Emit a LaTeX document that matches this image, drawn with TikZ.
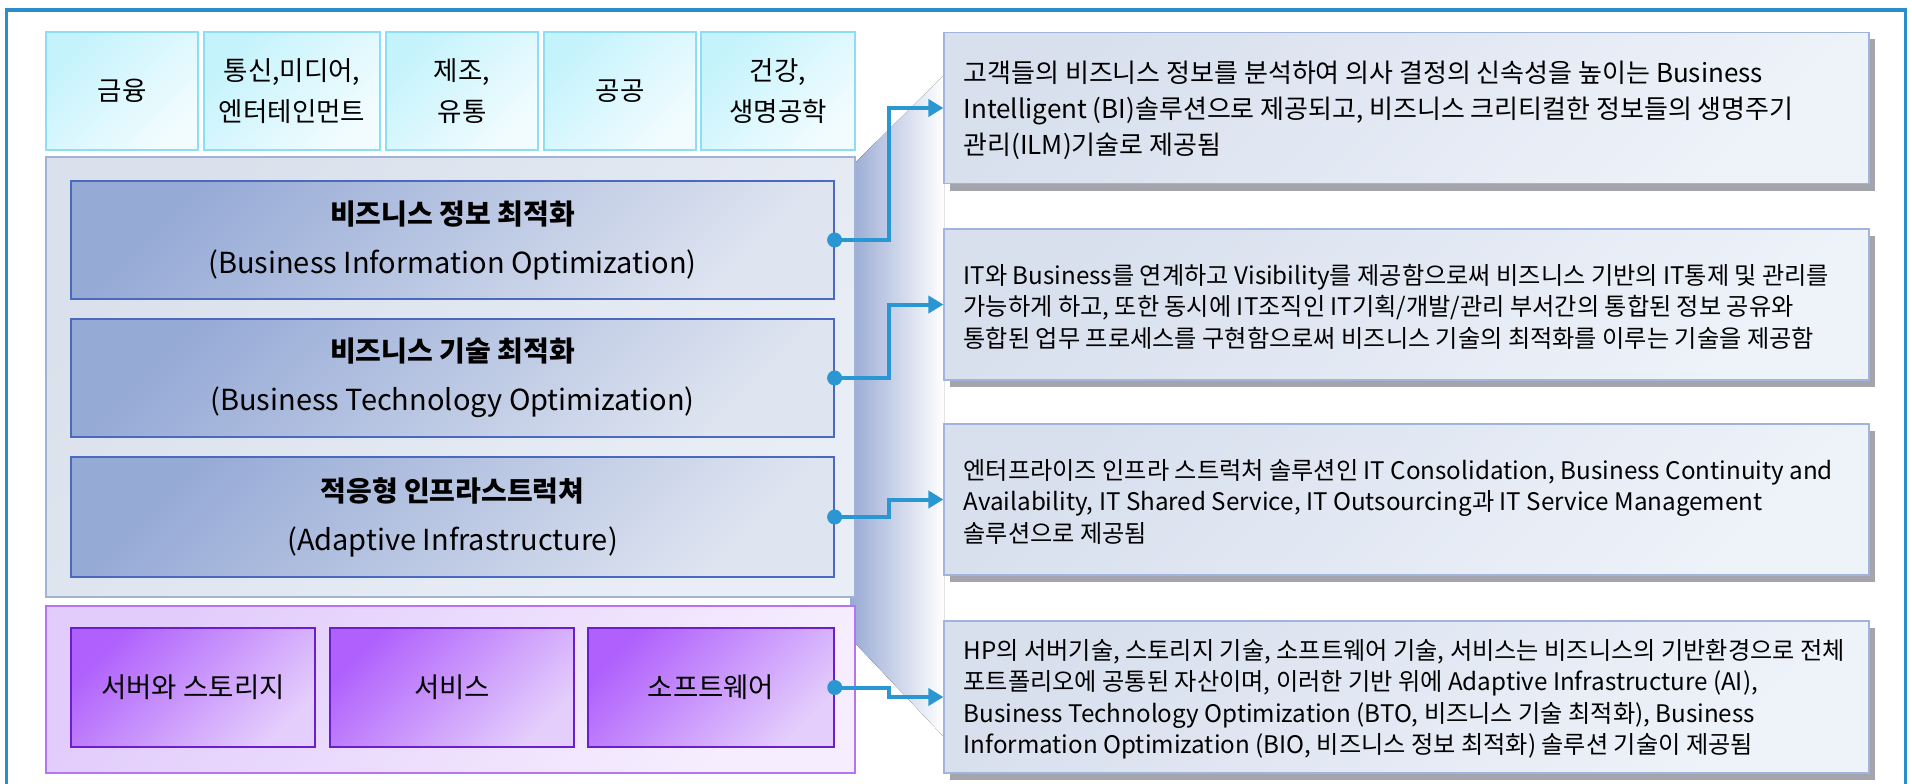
\documentclass[tikz,border=0pt]{standalone}
\usepackage{fontspec}
\setmainfont{Noto Sans CJK KR}
\usetikzlibrary{arrows.meta,shadows}
\definecolor{frameblue}{RGB}{40,142,204}
\definecolor{indA}{RGB}{196,243,252}
\definecolor{indB}{RGB}{242,252,255}
\definecolor{indBorder}{RGB}{140,222,248}
\definecolor{panA}{RGB}{218,225,236}
\definecolor{panB}{RGB}{233,238,246}
\definecolor{panBorder}{RGB}{160,178,214}
\definecolor{optA}{RGB}{150,170,214}
\definecolor{optB}{RGB}{222,228,240}
\definecolor{optBorder}{RGB}{74,106,192}
\definecolor{purA}{RGB}{226,204,252}
\definecolor{purB}{RGB}{246,238,254}
\definecolor{purBorder}{RGB}{180,116,244}
\definecolor{pinA}{RGB}{176,96,252}
\definecolor{pinB}{RGB}{228,206,252}
\definecolor{pinBorder}{RGB}{108,30,204}
\definecolor{conn}{RGB}{42,150,210}
\definecolor{descA}{RGB}{216,224,238}
\definecolor{descB}{RGB}{238,242,249}
\definecolor{descBorder}{RGB}{160,180,222}
\definecolor{shadowgray}{RGB}{164,164,172}
\definecolor{trap}{RGB}{152,170,212}
\begin{document}
\begin{tikzpicture}[x=1pt,y=-1pt,
  ind/.style={draw=indBorder, line width=1.5pt, top color=indA, bottom color=indB, shading angle=45,
    minimum height=118pt, inner sep=0pt, align=center, font=\fontsize{26.5}{41}\selectfont},
  panel/.style={draw=panBorder, line width=1.2pt, top color=panA, bottom color=panB, shading angle=45, inner sep=0pt},
  opt/.style={draw=optBorder, line width=1.2pt, top color=optA, bottom color=optB, shading angle=45,
    minimum width=763pt, minimum height=118pt, inner sep=0pt, align=center, font=\fontsize{28}{49}\selectfont},
  ppanel/.style={draw=purBorder, line width=1.2pt, top color=purA, bottom color=purB, shading angle=45, inner sep=0pt},
  pin/.style={draw=pinBorder, line width=1.5pt, top color=pinA, bottom color=pinB, shading angle=45,
    minimum height=119pt, inner sep=0pt, align=center, font=\fontsize{27.5}{30}\selectfont},
  rbox/.style={draw=descBorder, line width=1.2pt, top color=descA, bottom color=descB, shading angle=45,
    minimum width=925pt, minimum height=151pt, inner sep=0pt,
    drop shadow={shadow xshift=6pt, shadow yshift=-7pt, fill=shadowgray, opacity=1}},
  desc/.style={anchor=west, align=left, inner sep=0pt, font=\fontsize{24.2}{31.5}\selectfont},
  connline/.style={draw=conn, line width=4pt, -{Triangle[length=15pt,width=17pt]}},
  dot/.style={fill=conn}
]
\useasboundingbox (0,0) rectangle (1912,784);
\fill[white] (0,0) rectangle (1912,784);
% gradient wedge
\fill[left color=trap, right color=white] (850,163) -- (855,163) -- (944,75) -- (944,737) -- (855,643) -- (850,643) -- cycle;
% outer frame
\draw[frameblue, line width=3.5pt] (6.5,800) -- (6.5,10) -- (1905.5,10) -- (1905.5,800);
% industries
\node[ind, minimum width=152pt] (fin) at (122,91) {금융};
\node[ind, minimum width=176pt] (tel) at (292,91) {통신,미디어,\\엔터테인먼트};
\node[ind, minimum width=152pt] (man) at (462,91) {제조,\\유통};
\node[ind, minimum width=152pt] (pub) at (620,91) {공공};
\node[ind, minimum width=154pt] (hea) at (778,91) {건강,\\생명공학};
% optimisation stack
\node[panel, minimum width=809pt, minimum height=440pt] (stack) at (450.5,377) {};
\node[opt] (bio) at (452.5,240) {\textbf{비즈니스 정보 최적화}\\{\fontsize{29}{49}\selectfont (Business Information Optimization)}};
\node[opt] (bto) at (452.5,378) {\textbf{비즈니스 기술 최적화}\\{\fontsize{29}{49}\selectfont (Business Technology Optimization)}};
\node[opt, minimum height=120pt] (ai) at (452.5,517) {\textbf{적응형 인프라스트럭쳐}\\{\fontsize{29}{49}\selectfont (Adaptive Infrastructure)}};
% base layer
\node[ppanel, minimum width=809pt, minimum height=167pt] (base) at (450.5,689.5) {};
\node[pin, minimum width=244pt] (srv) at (193,687.5) {서버와 스토리지};
\node[pin, minimum width=244pt] (svc) at (452,687.5) {서비스};
\node[pin, minimum width=246pt] (sw) at (711,687.5) {소프트웨어};
% description boxes
\node[rbox] (r1) at (1406.5,108) {};
\node[rbox] (r2) at (1406.5,304.5) {};
\node[rbox] (r3) at (1406.5,499.5) {};
\node[rbox, minimum height=152pt] (r4) at (1406.5,697) {};
\node[desc, font=\fontsize{26}{36}\selectfont] (t1) at ([xshift=20pt,yshift=-2pt]r1.west) {고객들의 비즈니스 정보를 분석하여 의사 결정의 신속성을 높이는 Business\\Intelligent (BI)솔루션으로 제공되고, 비즈니스 크리티컬한 정보들의 생명주기\\관리(ILM)기술로 제공됨};
\node[desc] (t2) at ([xshift=20pt,yshift=-2pt]r2.west) {IT와 Business를 연계하고 Visibility를 제공함으로써 비즈니스 기반의 IT통제 및 관리를\\가능하게 하고, 또한 동시에 IT조직인 IT기획/개발/관리 부서간의 통합된 정보 공유와\\통합된 업무 프로세스를 구현함으로써 비즈니스 기술의 최적화를 이루는 기술을 제공함};
\node[desc] (t3) at ([xshift=20pt,yshift=-2pt]r3.west) {엔터프라이즈 인프라 스트럭처 솔루션인 IT Consolidation, Business Continuity and\\Availability, IT Shared Service, IT Outsourcing과 IT Service Management\\솔루션으로 제공됨};
\node[desc] (t4) at ([xshift=20pt,yshift=-2pt]r4.west) {HP의 서버기술, 스토리지 기술, 소프트웨어 기술, 서비스는 비즈니스의 기반환경으로 전체\\포트폴리오에 공통된 자산이며, 이러한 기반 위에 Adaptive Infrastructure (AI),\\Business Technology Optimization (BTO, 비즈니스 기술 최적화), Business\\Information Optimization (BIO, 비즈니스 정보 최적화) 솔루션 기술이 제공됨};
% connectors
\draw[connline] (bio.east) -- ++(54,0) |- (r1.west);
\draw[connline] (bto.east) -- ++(54,0) |- (r2.west);
\draw[connline] (ai.east) -- ++(54,0) |- (r3.west);
\draw[connline] (sw.east) -- ++(54,0) |- (r4.west);
\fill[dot] (bio.east) circle (7.5pt);
\fill[dot] (bto.east) circle (7.5pt);
\fill[dot] (ai.east) circle (7.5pt);
\fill[dot] (sw.east) circle (7.5pt);
\end{tikzpicture}
\end{document}
